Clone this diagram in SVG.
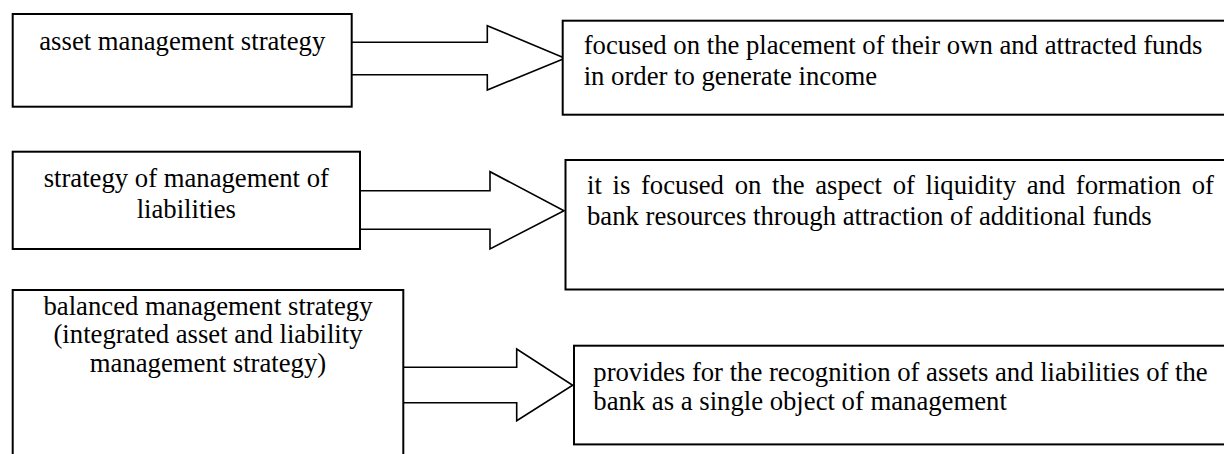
<svg xmlns="http://www.w3.org/2000/svg" width="1224" height="454" viewBox="0 0 1224 454">
<style>
.box{fill:#fff;stroke:#000;stroke-width:2}
.arr{fill:#fff;stroke:#000;stroke-width:1.6;stroke-linejoin:miter}
text{font-family:"Liberation Serif","Times New Roman",serif;font-size:26.7px;fill:#000}
.c{text-anchor:middle}
</style>
<rect width="1224" height="454" fill="#fff"/>
<g id="connectors">
<path class="arr" d="M352,42.3 H487.3 V25.7 L565,58.3 L487.3,90 V74.7 H352"/>
<path class="arr" d="M360,190.7 H490 V171.7 L564,210.7 L490,249 V229.3 H360"/>
<path class="arr" d="M403.3,367.3 H516.7 V349 L572.7,385.3 L516.7,420.7 V402.7 H403.3"/>
</g>
<g id="n1">
<rect class="box" x="12.7" y="14" width="339" height="92.7"/>
<text class="c" x="182.3" y="49.5">asset management strategy</text>
</g>
<g id="n2">
<rect class="box" x="562.7" y="20.7" width="670" height="94"/>
<text x="583.7" y="53.5">focused on the placement of their own and attracted funds</text>
<text x="583.7" y="85">in order to generate income</text>
</g>
<g id="n3">
<rect class="box" x="12.7" y="151.7" width="347.3" height="97.3"/>
<text class="c" x="186.3" y="186.5">strategy of management of</text>
<text class="c" x="186.3" y="218">liabilities</text>
</g>
<g id="n4">
<rect class="box" x="565.5" y="160" width="670" height="129.5"/>
<text x="587" y="193.5" word-spacing="4">it is focused on the aspect of liquidity and formation of</text>
<text x="587" y="224.5">bank resources through attraction of additional funds</text>
</g>
<g id="n5">
<rect class="box" x="12.7" y="290" width="390.6" height="200"/>
<text class="c" x="208" y="314.5">balanced management strategy</text>
<text class="c" x="208" y="343">(integrated asset and liability</text>
<text class="c" x="208" y="371.5">management strategy)</text>
</g>
<g id="n6">
<rect class="box" x="574" y="345.7" width="670" height="98.7"/>
<text x="593.3" y="380.5">provides for the recognition of assets and liabilities of the</text>
<text x="593.3" y="410">bank as a single object of management</text>
</g>
</svg>
